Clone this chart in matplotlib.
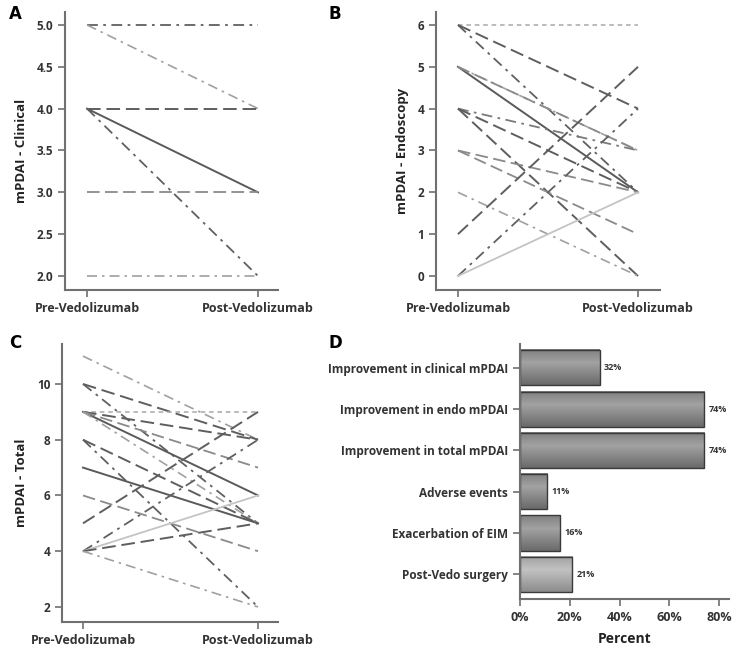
import numpy as np
import matplotlib.pyplot as plt
from matplotlib.colors import LinearSegmentedColormap

plt.rcParams['font.family'] = ['Open Sans', 'DejaVu Sans']

# ---- data ----
# Panel A: clinical mPDAI, pre -> post
clin_pre = [5, 5, 4, 4, 4, 3, 2]
clin_post = [5, 4, 4, 3, 2, 3, 2]
clin_sty = ['ddk', 'dl', 'ldk', 'sd', 'ddk', 'lm', 'dl']

# Panel B: endoscopy mPDAI
endo_pre = [6, 6, 6, 5, 5, 5, 4, 4, 4, 3, 3, 2, 1, 0, 0]
endo_post = [6, 4, 2, 2, 3, 3, 3, 2, 0, 2, 1, 0, 5, 4, 2]
endo_sty = ['sl', 'ldk', 'ddk', 'sd', 'dl', 'lm', 'dm', 'ldk', 'ldk', 'lm', 'lm', 'dl', 'ldk', 'ddk', 'sl2']

# Panel C: total mPDAI
tot_pre = [11, 10, 10, 9, 9, 9, 9, 9, 8, 8, 7, 6, 5, 4, 4, 4, 4]
tot_post = [8, 8, 5, 9, 8, 6, 7, 5, 5, 2, 5, 4, 9, 8, 6, 5, 2]
tot_sty = ['dl', 'ldk', 'ddk', 'sl', 'ldk', 'sd', 'lm', 'dl', 'ldk', 'ddk', 'sd', 'lm', 'ldk', 'ddk', 'sl2', 'ldk', 'dl']

# Panel D: outcomes
outcomes = ['Improvement in clinical mPDAI', 'Improvement in endo mPDAI',
            'Improvement in total mPDAI', 'Adverse events',
            'Exacerbation of EIM', 'Post-Vedo surgery']
percents = [32, 74, 74, 11, 16, 21]

xcats = ['Pre-Vedolizumab', 'Post-Vedolizumab']

STYLES = {
    'sd':  dict(color='#5a5a5a', ls='-', lw=1.4),
    'sl2': dict(color='#c4c4c4', ls='-', lw=1.3),
    'ldk': dict(color='#5e5e5e', ls=(0, (7, 3)), lw=1.4),
    'lm':  dict(color='#8a8a8a', ls=(0, (7, 3)), lw=1.3),
    'ddk': dict(color='#606060', ls=(0, (6, 3, 1.5, 3)), lw=1.3),
    'dm':  dict(color='#7a7a7a', ls=(0, (6, 3, 1.5, 3)), lw=1.3),
    'dl':  dict(color='#a0a0a0', ls=(0, (6, 3, 1.5, 3)), lw=1.2),
    'sl':  dict(color='#a8a8a8', ls=(0, (3, 2.5)), lw=1.1),
}

W, H = 740, 654
fig = plt.figure(figsize=(7.4, 6.54), dpi=100)


def box(l, t, r, b):
    return [l / W, 1 - b / H, (r - l) / W, (b - t) / H]


def style_axes(ax):
    for s in ['top', 'right']:
        ax.spines[s].set_visible(False)
    for s in ['left', 'bottom']:
        ax.spines[s].set_color('#707070')
        ax.spines[s].set_linewidth(1.5)
    ax.tick_params(color='#707070', width=1.2, length=5, labelcolor='#333333',
                   labelsize=8.5)
    for lab in ax.get_xticklabels() + ax.get_yticklabels():
        lab.set_fontweight('bold')


def slope_panel(rect, pre, post, sty, xlim, ylim, yticks, yfmt, ylabel, letter, lx, ly):
    ax = fig.add_axes(box(*rect))
    for a, b, s in zip(pre, post, sty):
        ax.plot([0, 1], [a, b], **STYLES[s])
    ax.set_xlim(*xlim)
    ax.set_ylim(*ylim)
    ax.set_xticks([0, 1])
    ax.set_xticklabels(xcats)
    ax.set_yticks(yticks)
    ax.set_yticklabels([yfmt.format(v) for v in yticks])
    ax.set_ylabel(ylabel, fontsize=9.5, fontweight='bold', color='#222222', labelpad=6)
    style_axes(ax)
    ax.tick_params(axis='x', labelsize=9, pad=3.5)
    fig.text(lx / W, 1 - ly / H, letter, fontsize=12, fontweight='bold',
             ha='left', va='center', family='DejaVu Sans')
    return ax


slope_panel((65, 12, 278, 290), clin_pre, clin_post, clin_sty,
            (-0.129, 1.117), (1.833, 5.155), [2.0, 2.5, 3.0, 3.5, 4.0, 4.5, 5.0],
            '{:.1f}', 'mPDAI - Clinical', 'A', 9, 14)
slope_panel((436, 12, 660, 290), endo_pre, endo_post, endo_sty,
            (-0.122, 1.122), (-0.335, 6.31), [0, 1, 2, 3, 4, 5, 6],
            '{:d}', 'mPDAI - Endoscopy', 'B', 329, 14)
slope_panel((62, 344, 278, 622), tot_pre, tot_post, tot_sty,
            (-0.12, 1.114), (1.46, 11.435), [2, 4, 6, 8, 10],
            '{:d}', 'mPDAI - Total', 'C', 9, 343)

# ---- panel D ----
axd = fig.add_axes(box(520, 344, 729, 599))
grad = np.abs(np.linspace(-1, 1, 64) + 0.25).reshape(-1, 1)
cm_dark = LinearSegmentedColormap.from_list('g', ['#a2a2a2', '#6a6a6a'])
cm_light = LinearSegmentedColormap.from_list('gl', ['#c2c2c2', '#8c8c8c'])
ypos = np.arange(len(outcomes))
hgt = 0.85
for i, (y, v) in enumerate(zip(ypos, percents)):
    cmap = cm_light if i == len(outcomes) - 1 else cm_dark
    axd.imshow(grad, cmap=cmap, aspect='auto', extent=(0, v, y + hgt / 2, y - hgt / 2),
               zorder=1, vmin=0, vmax=1.25)
    axd.barh(y, v, height=hgt, color='none', edgecolor='#3a3a3a', linewidth=1.0, zorder=2)
    axd.text(v + 1.8, y, f'{v}%', va='center', ha='left', fontsize=6.5,
             color='#333333', fontweight='bold')
axd.set_xlim(0, 84)
axd.set_ylim(5.6, -0.58)
axd.set_yticks(ypos)
axd.set_yticklabels(outcomes)
axd.set_xticks([0, 20, 40, 60, 80])
axd.set_xticklabels(['0%', '20%', '40%', '60%', '80%'])
style_axes(axd)
axd.tick_params(axis='x', labelsize=9)
axd.set_xlabel('Percent', fontsize=10, fontweight='bold', color='#222222', labelpad=6)
fig.text(329 / W, 1 - 343 / H, 'D', fontsize=12, fontweight='bold',
         ha='left', va='center', family='DejaVu Sans')

fig.savefig('out.png', dpi=100)
